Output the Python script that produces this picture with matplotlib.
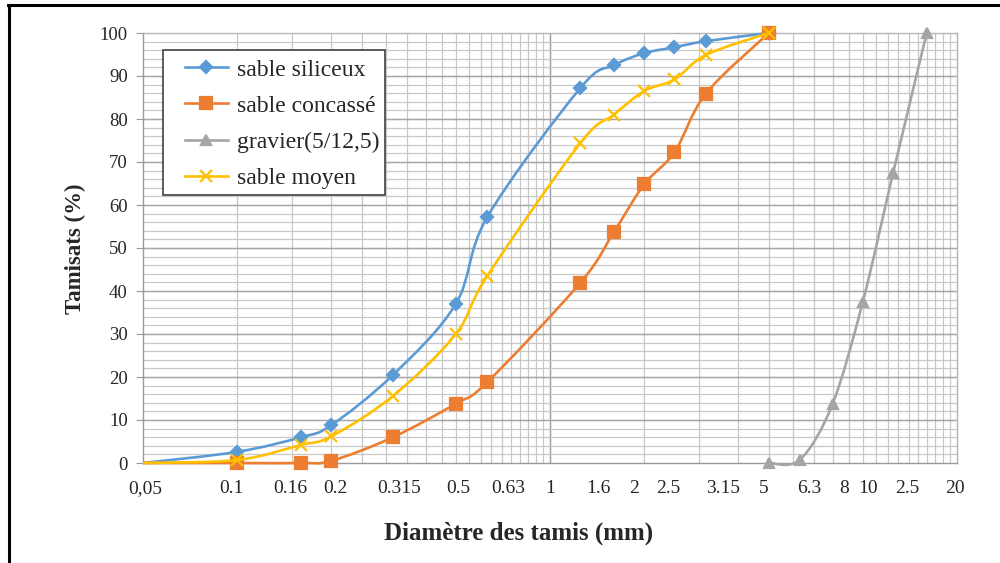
import numpy as np
import matplotlib
matplotlib.use('Agg')
import matplotlib.pyplot as plt
from matplotlib.path import Path
from matplotlib.patches import PathPatch, Rectangle
from matplotlib.lines import Line2D
from matplotlib.transforms import ScaledTranslation
from matplotlib.ticker import FixedLocator, FixedFormatter, NullFormatter

# ouvertures des tamis (mm) et tamisats cumulés (%)
tamis_sable = [0.05, 0.1, 0.16, 0.2, 0.315, 0.5, 0.63, 1.25, 1.6, 2, 2.5, 3.15, 5]
sable_siliceux = [0, 2.6, 6.0, 8.8, 20.5, 37, 57.2, 87.2, 92.5, 95.3, 96.7, 98.1, 100]
sable_concasse = [0, 0, 0, 0.5, 6, 13.8, 18.8, 41.9, 53.7, 64.8, 72.3, 85.9, 100]
sable_moyen = [0, 0.7, 4.2, 6.2, 15.6, 30, 43.5, 74.4, 81, 86.5, 89.2, 94.9, 100]
tamis_gravier = [5, 6.3, 8, 10, 12.5, 16]
gravier = [0, 0.8, 13.7, 37.5, 67.5, 100]

tick_vals = [0.05, 0.1, 0.16, 0.2, 0.315, 0.5, 0.63, 1, 1.6, 2, 2.5, 3.15,
             5, 6.3, 8, 10, 12.5, 20]
tick_labels = ['0,05', '0.1', '0.16', '0.2', '0.315', '0.5', '0.63', '1', '1.6',
               '2', '2.5', '3.15', '5', '6.3', '8', '10', '2.5', '20']
# décalage horizontal des étiquettes (px), placées à la main
tick_dx = [2, -6, -11, 4, 6, 2, 21, 0, -15, -10, -6, 17, -5, 9, 12, 5, 14, -2]

SERIF = 'Liberation Serif'
TXT = '#262626'


def smooth_path(ax, x, y):
    # courbe lissée type Excel : Bézier cubiques calculées en coordonnées écran
    pts = ax.transData.transform(np.column_stack([x, y]))
    n = len(pts)
    verts = [pts[0]]
    codes = [Path.MOVETO]
    for i in range(n - 1):
        p0 = pts[max(i - 1, 0)]
        p1 = pts[i]
        p2 = pts[i + 1]
        p3 = pts[min(i + 2, n - 1)]
        verts += [p1 + (p2 - p0) / 6, p2 - (p3 - p1) / 6, p2]
        codes += [Path.CURVE4] * 3
    verts = ax.transData.inverted().transform(np.array(verts))
    return Path(verts, codes)


fig = plt.figure(figsize=(10, 5.63), dpi=100)
ax = fig.add_axes([0.143, 1 - 463 / 563, 0.814, 430 / 563])
ax.set_xscale('log')
ax.set_xlim(0.05, 20)
ax.set_ylim(0, 100)

# quadrillage
minor_v = np.concatenate([np.arange(0.1, 1.0, 0.05), np.arange(2, 20, 1)])
ax.vlines(minor_v, 0, 100, colors='#c8c8c8', lw=0.9, zorder=0)
ax.vlines([1], 0, 100, colors='#9a9a9a', lw=1.0, zorder=0)
ax.hlines(np.arange(2, 100, 2), 0.05, 20, colors='#c8c8c8', lw=0.9, zorder=0)
ax.hlines(np.arange(10, 100, 10), 0.05, 20, colors='#a6a6a6', lw=1.0, zorder=0)

for s in ax.spines.values():
    s.set_color('#b4b4b4')
    s.set_linewidth(1.0)
ax.spines['left'].set_color('#9a9a9a')
ax.spines['bottom'].set_color('#9a9a9a')

# (x, y, couleur, marqueur, taille, libellé, premier point marqué)
series = [
    (tamis_sable, sable_siliceux, '#5B9BD5', 'D', 6, 'sable siliceux', 1),
    (tamis_sable, sable_concasse, '#ED7D31', 's', 8, 'sable concassé', 1),
    (tamis_gravier, gravier, '#A5A5A5', '^', 7, 'gravier(5/12,5)', 0),
    (tamis_sable, sable_moyen, '#FFC000', 'x', 8, 'sable moyen', 1),
]

handles = []
for k, (x, y, c, m, ms, lab, first) in enumerate(series):
    ax.add_patch(PathPatch(smooth_path(ax, x, y), fill=False, edgecolor=c,
                           lw=1.9, zorder=3 + k, clip_on=False))
    ax.plot(x[first:], y[first:], ls='none', marker=m, ms=ms, color=c, mew=1.6,
            zorder=3 + k, clip_on=False)
    handles.append(Line2D([], [], color=c, lw=1.9, marker=m, ms=ms, mew=1.6,
                          label=lab))

# axes et graduations
ax.set_yticks(np.arange(0, 101, 10))
ax.tick_params(axis='y', direction='out', length=5, color='#9a9a9a', pad=6,
               labelsize=13.5, labelcolor=TXT)
ax.xaxis.set_major_locator(FixedLocator(tick_vals))
ax.xaxis.set_major_formatter(FixedFormatter(tick_labels))
ax.xaxis.set_minor_locator(FixedLocator([0.05, 1, 20]))
ax.xaxis.set_minor_formatter(NullFormatter())
ax.tick_params(axis='x', which='major', length=0, pad=12, labelsize=14,
               labelcolor=TXT)
ax.tick_params(axis='x', which='minor', direction='out', length=6,
               color='#9a9a9a')
for t in ax.get_yticklabels():
    t.set_family(SERIF)
for t, dx in zip(ax.get_xticklabels(), tick_dx):
    t.set_family(SERIF)
    t.set_transform(t.get_transform()
                    + ScaledTranslation(dx / 100, 0, fig.dpi_scale_trans))

fig.text(0.519, 1 - 533 / 563, 'Diamètre des tamis (mm)', ha='center',
         va='center', fontsize=18, fontweight='bold', family=SERIF, color=TXT)
fig.text(0.075, 1 - 249 / 563, 'Tamisats (%)', ha='center', va='center',
         rotation=90, fontsize=16.5, fontweight='bold', family=SERIF, color=TXT)

# légende : cadre dessiné à part, contenu sans cadre
ax.add_patch(Rectangle((20 / 814, 268 / 430), 222 / 814, 145 / 430,
                       transform=ax.transAxes, facecolor='white',
                       edgecolor='#404040', lw=1.2, zorder=9, clip_on=False))
leg = ax.legend(handles=handles, loc='upper left',
                bbox_to_anchor=(42 / 814, 404 / 430), borderaxespad=0,
                frameon=False, handlelength=1.82, handletextpad=0.38,
                labelspacing=0.62, borderpad=0,
                prop={'family': SERIF, 'size': 17})
for t in leg.get_texts():
    t.set_color(TXT)
leg.set_zorder(10)

# cadre extérieur (haut et gauche)
fig.add_artist(Line2D([0.008, 1], [1 - 5 / 563, 1 - 5 / 563], color='black',
                      lw=2.2, transform=fig.transFigure))
fig.add_artist(Line2D([0.0085, 0.0085], [0, 1 - 5 / 563], color='black',
                      lw=2.2, transform=fig.transFigure))

fig.savefig('out.png', dpi=100)
